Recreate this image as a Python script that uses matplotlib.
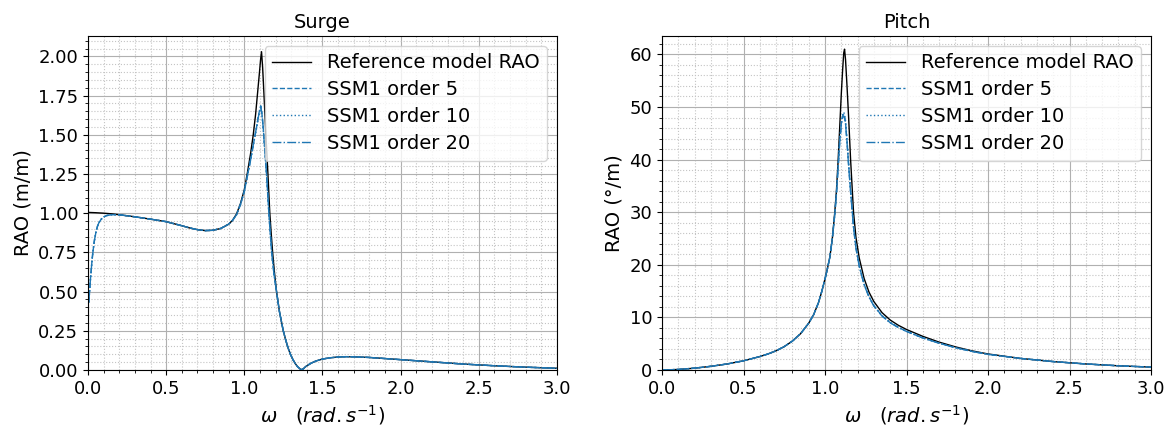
import matplotlib
matplotlib.use("Agg")
import matplotlib.pyplot as plt

# ---------------- Surge data ----------------
surge_ref_w = [0.0, 0.05, 0.1, 0.15, 0.2, 0.3, 0.4, 0.5, 0.6, 0.65, 0.7, 0.75, 0.8, 0.85,
               0.9, 0.925, 0.95, 0.975, 1.0, 1.02, 1.04, 1.057, 1.072, 1.085, 1.097,
               1.104, 1.11, 1.117, 1.125, 1.138, 1.151, 1.163, 1.172, 1.181, 1.193,
               1.206, 1.225, 1.249, 1.265, 1.28, 1.295, 1.31, 1.325, 1.34, 1.355, 1.367,
               1.378, 1.39, 1.41, 1.43, 1.46, 1.5, 1.55, 1.6, 1.65, 1.7, 1.8, 1.9, 2.0,
               2.2, 2.4, 2.6, 2.8, 3.0]
surge_ref = [1.005, 1.003, 1.0, 0.996, 0.99, 0.977, 0.962, 0.946, 0.92, 0.906, 0.895,
             0.889, 0.891, 0.903, 0.93, 0.955, 0.995, 1.06, 1.15, 1.26, 1.38, 1.5, 1.63,
             1.77, 1.9, 1.98, 2.03, 1.93, 1.77, 1.5, 1.25, 1.0, 0.87, 0.75, 0.62, 0.5,
             0.37, 0.25, 0.19, 0.14, 0.1, 0.068, 0.042, 0.022, 0.008, 0.002, 0.008,
             0.02, 0.033, 0.045, 0.058, 0.07, 0.078, 0.083, 0.085, 0.084, 0.08, 0.073,
             0.066, 0.052, 0.038, 0.027, 0.018, 0.011]

surge_ssm_w = [0.005, 0.01, 0.015, 0.02, 0.025, 0.03, 0.04, 0.05, 0.06, 0.07, 0.085,
               0.1, 0.12, 0.15, 0.2, 0.3, 0.4, 0.5, 0.6, 0.65, 0.7, 0.75, 0.8, 0.85,
               0.9, 0.925, 0.95, 0.975, 1.0, 1.02, 1.04, 1.06, 1.08, 1.09, 1.1, 1.105,
               1.112, 1.12, 1.13, 1.142, 1.157, 1.166, 1.175, 1.19, 1.206, 1.225, 1.249,
               1.265, 1.28, 1.295, 1.31, 1.325, 1.34, 1.355, 1.367, 1.378, 1.39, 1.41,
               1.43, 1.46, 1.5, 1.55, 1.6, 1.65, 1.7, 1.8, 1.9, 2.0, 2.2, 2.4, 2.6, 2.8,
               3.0]
_surge_tail = [0.37, 0.25, 0.19, 0.14, 0.1, 0.068, 0.042, 0.022, 0.008, 0.002, 0.008,
               0.02, 0.033, 0.045, 0.058, 0.07, 0.078, 0.083, 0.085, 0.084, 0.08, 0.073,
               0.066, 0.052, 0.038, 0.027, 0.018, 0.011]
surge_ssm5 = [0.43, 0.5, 0.57, 0.63, 0.69, 0.74, 0.82, 0.875, 0.915, 0.94, 0.962, 0.976,
              0.985, 0.99, 0.99, 0.977, 0.962, 0.946, 0.92, 0.906, 0.895, 0.889, 0.891,
              0.903, 0.93, 0.955, 0.99, 1.055, 1.14, 1.24, 1.34, 1.45, 1.56, 1.62, 1.67,
              1.685, 1.64, 1.56, 1.42, 1.25, 1.0, 0.87, 0.75, 0.61, 0.5] + _surge_tail
surge_ssm10 = [0.43, 0.5, 0.57, 0.63, 0.69, 0.74, 0.82, 0.875, 0.915, 0.94, 0.962, 0.976,
               0.985, 0.99, 0.99, 0.977, 0.962, 0.946, 0.92, 0.906, 0.895, 0.889, 0.891,
               0.903, 0.93, 0.955, 0.99, 1.055, 1.14, 1.24, 1.34, 1.45, 1.55, 1.61, 1.655,
               1.67, 1.63, 1.55, 1.41, 1.25, 1.0, 0.87, 0.75, 0.61, 0.5] + _surge_tail
surge_ssm20 = [0.43, 0.5, 0.57, 0.63, 0.69, 0.74, 0.82, 0.875, 0.915, 0.94, 0.962, 0.976,
               0.985, 0.99, 0.99, 0.977, 0.962, 0.946, 0.92, 0.906, 0.895, 0.889, 0.891,
               0.903, 0.93, 0.955, 0.99, 1.055, 1.14, 1.24, 1.34, 1.45, 1.56, 1.615, 1.665,
               1.68, 1.635, 1.555, 1.415, 1.25, 1.0, 0.87, 0.75, 0.61, 0.5] + _surge_tail

# ---------------- Pitch data ----------------
pitch_w = [0.0, 0.1, 0.2, 0.3, 0.4, 0.5, 0.6, 0.65, 0.7, 0.75, 0.8, 0.85, 0.9, 0.93,
           0.96, 0.98, 1.0, 1.015, 1.03, 1.045, 1.06, 1.07, 1.08, 1.09, 1.1, 1.108,
           1.115, 1.12, 1.126, 1.135, 1.145, 1.157, 1.175, 1.19, 1.21, 1.24, 1.27, 1.3,
           1.35, 1.4, 1.45, 1.5, 1.6, 1.7, 1.8, 1.9, 2.0, 2.2, 2.4, 2.6, 2.8, 3.0]
pitch_ref = [0.0, 0.1, 0.35, 0.7, 1.15, 1.75, 2.55, 3.05, 3.65, 4.45, 5.5, 6.9, 8.9,
             10.5, 12.8, 14.9, 17.3, 19.3, 21.5, 25.0, 30.0, 34.0, 39.5, 46.0, 52.5,
             57.0, 60.3, 61.0, 59.0, 54.0, 48.0, 40.0, 30.0, 25.2, 21.3, 17.4, 14.8,
             13.0, 10.9, 9.5, 8.5, 7.7, 6.4, 5.3, 4.4, 3.65, 3.05, 2.2, 1.6, 1.15, 0.8,
             0.55]
_pitch_head = [0.0, 0.1, 0.35, 0.7, 1.15, 1.75, 2.55, 3.05, 3.65, 4.45, 5.5, 6.9, 8.9,
               10.5, 12.8, 14.9, 17.3, 19.3, 21.5, 25.0, 29.6]
_pitch_tail = [2.2, 1.6, 1.15, 0.8, 0.55]
pitch_ssm5 = _pitch_head + [33.5, 38.3, 43.3, 46.8, 48.3, 48.6, 48.2, 47.0, 43.5, 39.0,
                            34.0, 27.2, 23.2, 19.8, 16.3, 13.9, 12.2, 10.3, 9.0, 8.1,
                            7.35, 6.1, 5.1, 4.25, 3.55, 2.98] + _pitch_tail
pitch_ssm10 = _pitch_head + [33.6, 38.5, 43.6, 47.2, 48.7, 49.0, 48.6, 47.4, 43.8, 39.3,
                             34.2, 27.4, 23.3, 19.9, 16.4, 14.0, 12.25, 10.35, 9.05,
                             8.15, 7.4, 6.13, 5.12, 4.27, 3.57, 2.99] + _pitch_tail
pitch_ssm20 = _pitch_head + [33.4, 38.2, 43.1, 46.6, 48.0, 48.3, 47.9, 46.8, 43.3, 38.8,
                             33.8, 27.1, 23.1, 19.7, 16.2, 13.85, 12.15, 10.25, 8.97,
                             8.07, 7.33, 6.08, 5.09, 4.24, 3.54, 2.97] + _pitch_tail

labels = ["Reference model RAO", "SSM1 order 5", "SSM1 order 10", "SSM1 order 20"]
titles = ["Surge", "Pitch"]
ylabels = ["RAO (m/m)", "RAO (°/m)"]

plt.rcParams['font.size'] = 13
blue = '#1f77b4'

fig = plt.figure(figsize=(11.71, 4.28), dpi=100)
ax1 = fig.add_axes([88 / 1171, 1 - 370 / 428, 469 / 1171, 334 / 428])
ax2 = fig.add_axes([662 / 1171, 1 - 370 / 428, 489 / 1171, 334 / 428])


def draw(ax, wr, ref, ws, s5, s10, s20, ylim, title, ylabel):
    ax.plot(wr, ref, color='black', lw=1.0, label=labels[0])
    ax.plot(ws, s5, color=blue, lw=1.0, ls='--', label=labels[1])
    ax.plot(ws, s10, color=blue, lw=1.0, ls=':', label=labels[2])
    ax.plot(ws, s20, color=blue, lw=1.0, ls='-.', label=labels[3])
    ax.set_xlim(0, 3.0)
    ax.set_ylim(*ylim)
    ax.minorticks_on()
    ax.grid(which='major', color='#b0b0b0', lw=0.8)
    ax.grid(which='minor', color='#c4c4c4', lw=0.8, ls=':')
    ax.set_axisbelow(True)
    ax.tick_params(labelsize=13)
    ax.set_title(title, fontsize=14)
    ax.set_ylabel(ylabel, fontsize=14)
    ax.set_xlabel(r'$\omega \quad (rad.s^{-1})$', fontsize=14)
    ax.legend(loc='upper right', fontsize=14, labelspacing=0.4)


draw(ax1, surge_ref_w, surge_ref, surge_ssm_w, surge_ssm5, surge_ssm10, surge_ssm20,
     (0, 2.13), titles[0], ylabels[0])
draw(ax2, pitch_w, pitch_ref, pitch_w, pitch_ssm5, pitch_ssm10, pitch_ssm20,
     (0, 63.5), titles[1], ylabels[1])

fig.savefig('out.png', dpi=100)
